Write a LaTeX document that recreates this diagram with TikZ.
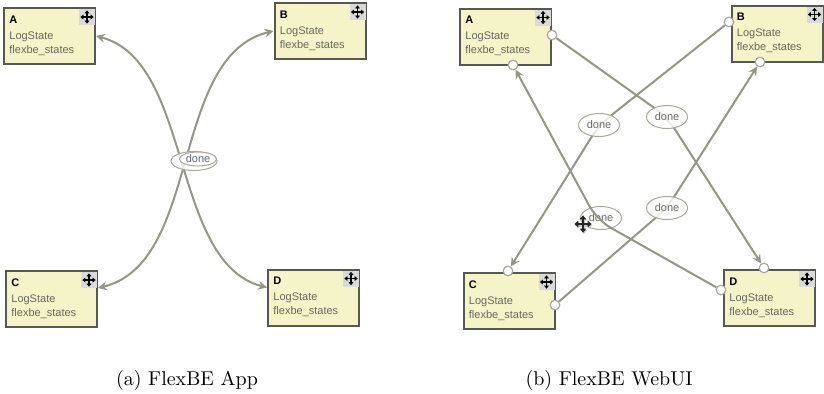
\documentclass[tikz,border=0pt]{standalone}
\usepackage{fontspec}
\newfontfamily\boxfont{Liberation Sans}
\usetikzlibrary{arrows.meta,shapes.geometric}
\definecolor{boxfill}{RGB}{245,243,200}
\definecolor{boxdraw}{RGB}{88,88,82}
\definecolor{boxtext}{RGB}{105,105,92}
\definecolor{edgecol}{RGB}{150,150,134}
\definecolor{lbldraw}{RGB}{168,168,156}
\definecolor{lbltext}{RGB}{105,105,100}
\definecolor{lbltexta}{RGB}{100,106,118}
\definecolor{icongray}{RGB}{218,218,218}
\tikzset{
  statebox/.style={rectangle, draw=boxdraw, line width=1pt, fill=boxfill,
    minimum width=45.5pt, minimum height=28pt, inner sep=0pt},
  sttext/.style={anchor=base west, inner sep=0pt, text=boxtext,
    font=\boxfont\fontsize{5.5}{7}\selectfont},
  sthead/.style={anchor=base west, inner sep=0pt, text=black,
    font=\boxfont\bfseries\fontsize{5.5}{7}\selectfont},
  edge/.style={draw=edgecol, line width=1pt},
  tip/.style={-{Stealth[length=4.5pt,width=4.5pt,inset=1.6pt]}},
  bothtips/.style={{Stealth[length=4.5pt,width=4.5pt,inset=1.6pt]}-{Stealth[length=4.5pt,width=4.5pt,inset=1.6pt]}},
  port/.style={circle, draw=lbldraw, fill=white, line width=0.6pt,
    minimum size=4.8pt, inner sep=0pt},
  lbl/.style={ellipse, draw=lbldraw, line width=0.5pt, fill=white, fill opacity=0.8,
    text opacity=1, text=lbltext, minimum width=20.5pt, minimum height=11.5pt,
    inner sep=0pt, font=\boxfont\fontsize{5.5}{7}\selectfont},
  caption/.style={inner sep=0pt, font=\fontsize{10}{12}\selectfont},
  moveicon/.pic={
    \fill[icongray] (-4pt,-4pt) rectangle (4pt,4pt);
    \draw[line width=0.55pt, {Triangle[length=1.5pt,width=2.4pt]}-{Triangle[length=1.5pt,width=2.4pt]}] (-3.3pt,0) -- (3.3pt,0);
    \draw[line width=0.55pt, {Triangle[length=1.5pt,width=2.4pt]}-{Triangle[length=1.5pt,width=2.4pt]}] (0,-3.3pt) -- (0,3.3pt);
  },
  cursoricon/.pic={
    \draw[gray!45, line width=1.3pt, {Triangle[length=2pt,width=3.4pt]}-{Triangle[length=2pt,width=3.4pt]}] (-4.1pt,-0.6pt) -- (4.5pt,-0.6pt);
    \draw[gray!45, line width=1.3pt, {Triangle[length=2pt,width=3.4pt]}-{Triangle[length=2pt,width=3.4pt]}] (0.4pt,-4.9pt) -- (0.4pt,3.7pt);
    \draw[black!85, line width=0.9pt, {Triangle[length=2pt,width=3.2pt]}-{Triangle[length=2pt,width=3.2pt]}] (-4.3pt,0) -- (4.3pt,0);
    \draw[black!85, line width=0.9pt, {Triangle[length=2pt,width=3.2pt]}-{Triangle[length=2pt,width=3.2pt]}] (0,-4.3pt) -- (0,4.3pt);
  }
}
\newcommand\mkstate[3]{%
  \node[statebox] (#1) at (#2) {};
  \node[sthead] (#1-h) at ([xshift=3pt,yshift=-8pt]#1.north west) {#3};
  \node[sttext] (#1-a) at ([xshift=3pt,yshift=-16pt]#1.north west) {LogState};
  \node[sttext] (#1-b) at ([xshift=3pt,yshift=-23pt]#1.north west) {flexbe\_states};
  \pic at ([xshift=-4.5pt,yshift=-5pt]#1.north east) {moveicon};
}
\begin{document}
\begin{tikzpicture}[x=0.5pt,y=-0.5pt]
\useasboundingbox (0,0) rectangle (824,393);
% ---------- (a) FlexBE App ----------
\mkstate{a1}{49.5,36}{A}
\mkstate{b1}{320,31}{B}
\mkstate{c1}{51.5,299}{C}
\mkstate{d1}{313.5,297.5}{D}
\draw[edge, bothtips] (a1.east) .. controls +(97,25) and +(-97,-25) .. ([yshift=5pt]d1.west);
\draw[edge, bothtips] (b1.west) .. controls +(-104,25) and +(104,-25) .. ([yshift=5.5pt]c1.east);
\node[lbl, minimum width=23pt, minimum height=9.5pt] (la1) at (194,161) {};
\node[lbl, minimum width=18.5pt, minimum height=7pt, text=lbltexta] (la2) at (198,159) {done};
% ---------- (b) FlexBE WebUI ----------
\mkstate{a2}{505.5,36.5}{A}
\mkstate{b2}{777,33.5}{B}
\mkstate{c2}{509,301}{C}
\mkstate{d2}{769.5,298}{D}
\node[port] (a2r) at (552,35) {};
\node[port] (a2b) at (513,65) {};
\node[port] (b2l) at (729,22) {};
\node[port] (b2b) at (760,62) {};
\node[port] (c2t) at (508,271) {};
\node[port] (c2r) at (555,305) {};
\node[port] (d2t) at (764,268) {};
\node[port] (d2l) at (721,290) {};
\coordinate (m1) at (667,117);
\coordinate (m2) at (599,125);
\coordinate (m3) at (667,208);
\coordinate (m4) at (601,218);
\draw[edge, tip, rounded corners=8pt] (a2r) -- (m1) -- (d2t);
\draw[edge, tip, rounded corners=8pt] (b2l) -- (m2) -- (c2t);
\draw[edge, tip, rounded corners=8pt] (c2r) -- (m3) -- (b2b);
\node[lbl] (l1) at (m1) {done};
\node[lbl] (l2) at (m2) {done};
\node[lbl] (l3) at (m3) {done};
\node[lbl] (l4) at (m4) {done};
\draw[edge, tip, rounded corners=8pt] (d2l) -- ([xshift=-2pt,yshift=-1pt]m4) -- (a2b);
\pic at (583,224) {cursoricon};
% ---------- captions ----------
\node[caption] (capa) at (187,380) {(a) FlexBE App};
\node[caption] (capb) at (609,380) {(b) FlexBE WebUI};
\end{tikzpicture}
\end{document}
